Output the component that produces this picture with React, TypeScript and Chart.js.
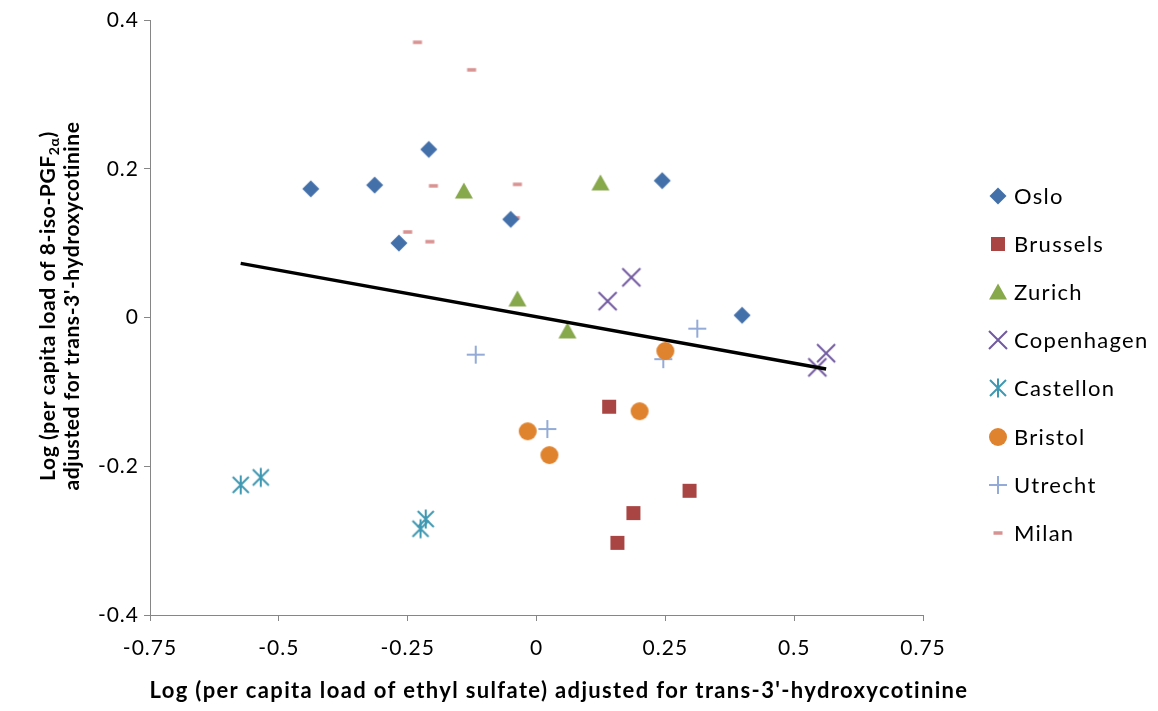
import React, { useEffect, useRef } from 'react';
import { Chart, registerables } from 'chart.js';

Chart.register(...registerables);

// ---- Data ----
const cities = ['Oslo', 'Brussels', 'Zurich', 'Copenhagen', 'Castellon', 'Bristol', 'Utrecht', 'Milan'];

const osloX = [-0.438, -0.314, -0.209, -0.267, -0.05, 0.244, 0.399];
const osloY = [0.173, 0.178, 0.226, 0.1, 0.132, 0.184, 0.003];

const brusselsX = [0.141, 0.297, 0.188, 0.157];
const brusselsY = [-0.12, -0.233, -0.263, -0.303];

const zurichX = [-0.141, 0.124, -0.037, 0.06];
const zurichY = [0.17, 0.181, 0.025, -0.018];

const copenhagenX = [0.138, 0.184, 0.545, 0.562];
const copenhagenY = [0.022, 0.054, -0.067, -0.048];

const castellonX = [-0.574, -0.535, -0.215, -0.225];
const castellonY = [-0.225, -0.215, -0.271, -0.284];

const bristolX = [-0.017, 0.025, 0.2, 0.25];
const bristolY = [-0.153, -0.185, -0.126, -0.045];

const utrechtX = [-0.118, 0.021, 0.246, 0.312];
const utrechtY = [-0.05, -0.15, -0.056, -0.015];

const milanX = [-0.231, -0.126, -0.2, -0.037, -0.041, -0.25, -0.207];
const milanY = [0.37, 0.333, 0.177, 0.179, 0.134, 0.115, 0.102];

const xTickLabels = ['-0.75', '-0.5', '-0.25', '0', '0.25', '0.5', '0.75'];
const yTickLabels = ['-0.4', '-0.2', '0', '0.2', '0.4'];

// linear trend line
const trendSlope = -0.125;
const trendIntercept = 0.001;
const trendRange = [-0.574, 0.562];

const seriesX = [osloX, brusselsX, zurichX, copenhagenX, castellonX, bristolX, utrechtX, milanX];
const seriesY = [osloY, brusselsY, zurichY, copenhagenY, castellonY, bristolY, utrechtY, milanY];
const markerKinds = ['diamond', 'square', 'triangle', 'x', 'star', 'circle', 'plus', 'dash'];
const markerColors = ['#4470AA', '#A94543', '#87A84B', '#7159A0', '#3F98B1', '#E0832F', '#93ABD6', '#D99292'];

const FONT = "Lato, 'Open Sans', 'DejaVu Sans', sans-serif";

function makeMarker(kind: string, color: string): HTMLCanvasElement {
  const c = document.createElement('canvas');
  c.width = 30;
  c.height = 30;
  const g = c.getContext('2d')!;
  const m = 15;
  g.fillStyle = color;
  g.strokeStyle = color;
  g.lineCap = 'butt';
  g.beginPath();
  switch (kind) {
    case 'diamond':
      g.moveTo(m, m - 8.5);
      g.lineTo(m + 8.5, m);
      g.lineTo(m, m + 8.5);
      g.lineTo(m - 8.5, m);
      g.closePath();
      g.fill();
      break;
    case 'square':
      g.fillRect(m - 7, m - 7, 14, 14);
      break;
    case 'triangle':
      g.moveTo(m, m - 8.5);
      g.lineTo(m + 9, m + 7.5);
      g.lineTo(m - 9, m + 7.5);
      g.closePath();
      g.fill();
      break;
    case 'x':
      g.lineWidth = 2;
      g.moveTo(m - 9, m - 9);
      g.lineTo(m + 9, m + 9);
      g.moveTo(m + 9, m - 9);
      g.lineTo(m - 9, m + 9);
      g.stroke();
      break;
    case 'star':
      g.lineWidth = 2;
      g.moveTo(m - 8, m - 8);
      g.lineTo(m + 8, m + 8);
      g.moveTo(m + 8, m - 8);
      g.lineTo(m - 8, m + 8);
      g.moveTo(m, m - 9.5);
      g.lineTo(m, m + 9.5);
      g.stroke();
      break;
    case 'circle':
      g.arc(m, m, 9, 0, Math.PI * 2);
      g.fill();
      break;
    case 'plus':
      g.lineWidth = 2;
      g.moveTo(m - 9, m);
      g.lineTo(m + 9, m);
      g.moveTo(m, m - 9);
      g.lineTo(m, m + 9);
      g.stroke();
      break;
    case 'dash':
      g.fillRect(m - 4.5, m - 1.75, 9, 3.5);
      break;
  }
  return c;
}

export default function App() {
  const ref = useRef<HTMLCanvasElement | null>(null);

  useEffect(() => {
    document.body.style.margin = '0';
    const canvas = ref.current!;
    const markers = markerKinds.map((k, i) => makeMarker(k, markerColors[i]));

    const datasets: any[] = cities.map((name, i) => ({
      label: name,
      data: seriesX[i].map((x, j) => ({ x, y: seriesY[i][j] })),
      pointStyle: markers[i],
      pointRadius: 9,
      backgroundColor: markerColors[i],
      borderColor: markerColors[i],
      showLine: false,
      order: 1,
    }));
    datasets.push({
      label: 'trend',
      data: trendRange.map((x) => ({ x, y: trendIntercept + trendSlope * x })),
      showLine: true,
      borderColor: '#000000',
      borderWidth: 3.5,
      pointRadius: 0,
      order: 0,
    });

    const spacing = {
      id: 'spacing',
      beforeDraw(chart: any) {
        (chart.ctx as any).letterSpacing = '1px';
      },
    };

    const titlesAndLegend = {
      id: 'titlesAndLegend',
      afterDraw(chart: any) {
        const ctx = chart.ctx as any;
        ctx.save();
        // legend
        ctx.letterSpacing = '1.3px';
        ctx.font = `22px ${FONT}`;
        ctx.fillStyle = '#000';
        ctx.textAlign = 'left';
        ctx.textBaseline = 'middle';
        cities.forEach((name, i) => {
          const y = 196 + i * 48.1;
          const mk = markers[i];
          ctx.drawImage(mk, Math.round(998 - mk.width / 2), Math.round(y - mk.height / 2));
          ctx.fillText(name, 1014, y + 1);
        });

        // x-axis title
        ctx.letterSpacing = '1.35px';
        ctx.font = `bold 22px ${FONT}`;
        ctx.textAlign = 'center';
        ctx.textBaseline = 'middle';
        ctx.fillText(
          "Log (per capita load of ethyl sulfate) adjusted for trans-3'-hydroxycotinine",
          559,
          691
        );

        // y-axis title (rotated, two lines, with subscript)
        ctx.letterSpacing = '0.6px';
        const cy = 306;
        ctx.translate(0, cy);
        ctx.rotate(-Math.PI / 2);
        const main = 'Log (per capita load of 8-iso-PGF';
        const sub = '2α';
        const end = ')';
        const bigFont = `bold 21px ${FONT}`;
        const smallFont = `bold 14px ${FONT}`;
        ctx.font = bigFont;
        const w1 = ctx.measureText(main).width;
        const w3 = ctx.measureText(end).width;
        ctx.font = smallFont;
        const w2 = ctx.measureText(sub).width;
        const total = w1 + w2 + w3;
        let sx = -total / 2;
        ctx.textAlign = 'left';
        ctx.textBaseline = 'alphabetic';
        const line1Base = 55;
        ctx.font = bigFont;
        ctx.fillText(main, sx, line1Base);
        sx += w1;
        ctx.font = smallFont;
        ctx.fillText(sub, sx, line1Base + 4);
        sx += w2;
        ctx.font = bigFont;
        ctx.fillText(end, sx, line1Base);
        ctx.textAlign = 'center';
        ctx.fillText("adjusted for trans-3'-hydroxycotinine", 0, line1Base + 24);
        ctx.restore();
      },
    };

    const chart = new Chart(canvas, {
      type: 'scatter',
      data: { datasets },
      options: {
        animation: false,
        responsive: false,
        maintainAspectRatio: false,
        layout: { padding: { top: 20, right: 235, left: 0, bottom: 0 } },
        plugins: {
          legend: { display: false },
          tooltip: { enabled: false },
          title: { display: false },
        },
        scales: {
          x: {
            type: 'linear',
            min: -0.75,
            max: 0.75,
            afterFit: (s: any) => {
              s.height = 96;
            },
            afterBuildTicks: (s: any) => {
              s.ticks = xTickLabels.map((t) => ({ value: parseFloat(t) }));
            },
            ticks: {
              callback: (v: any) => {
                const f = xTickLabels.find((t) => Math.abs(parseFloat(t) - v) < 1e-9);
                return f ?? '';
              },
              font: { family: FONT, size: 21 },
              color: '#000',
              padding: 15,
              maxRotation: 0,
              autoSkip: false,
            },
            grid: {
              display: true,
              drawOnChartArea: false,
              drawTicks: true,
              tickLength: 6,
              color: '#868686',
              lineWidth: 1,
            },
            border: { display: true, color: '#868686', width: 1 },
          },
          y: {
            type: 'linear',
            min: -0.4,
            max: 0.4,
            afterFit: (s: any) => {
              s.width = 150;
            },
            afterBuildTicks: (s: any) => {
              s.ticks = yTickLabels.map((t) => ({ value: parseFloat(t) }));
            },
            ticks: {
              callback: (v: any) => {
                const f = yTickLabels.find((t) => Math.abs(parseFloat(t) - v) < 1e-9);
                return f ?? '';
              },
              font: { family: FONT, size: 21 },
              color: '#000',
              padding: 5,
              autoSkip: false,
            },
            grid: {
              display: true,
              drawOnChartArea: false,
              drawTicks: true,
              tickLength: 6,
              color: '#868686',
              lineWidth: 1,
            },
            border: { display: true, color: '#868686', width: 1 },
          },
        },
      },
      plugins: [spacing, titlesAndLegend],
    });

    return () => chart.destroy();
  }, []);

  return (
    <div style={{ width: 1158, height: 711, background: '#fff' }}>
      <canvas ref={ref} width={1158} height={711} style={{ display: 'block' }} />
    </div>
  );
}
